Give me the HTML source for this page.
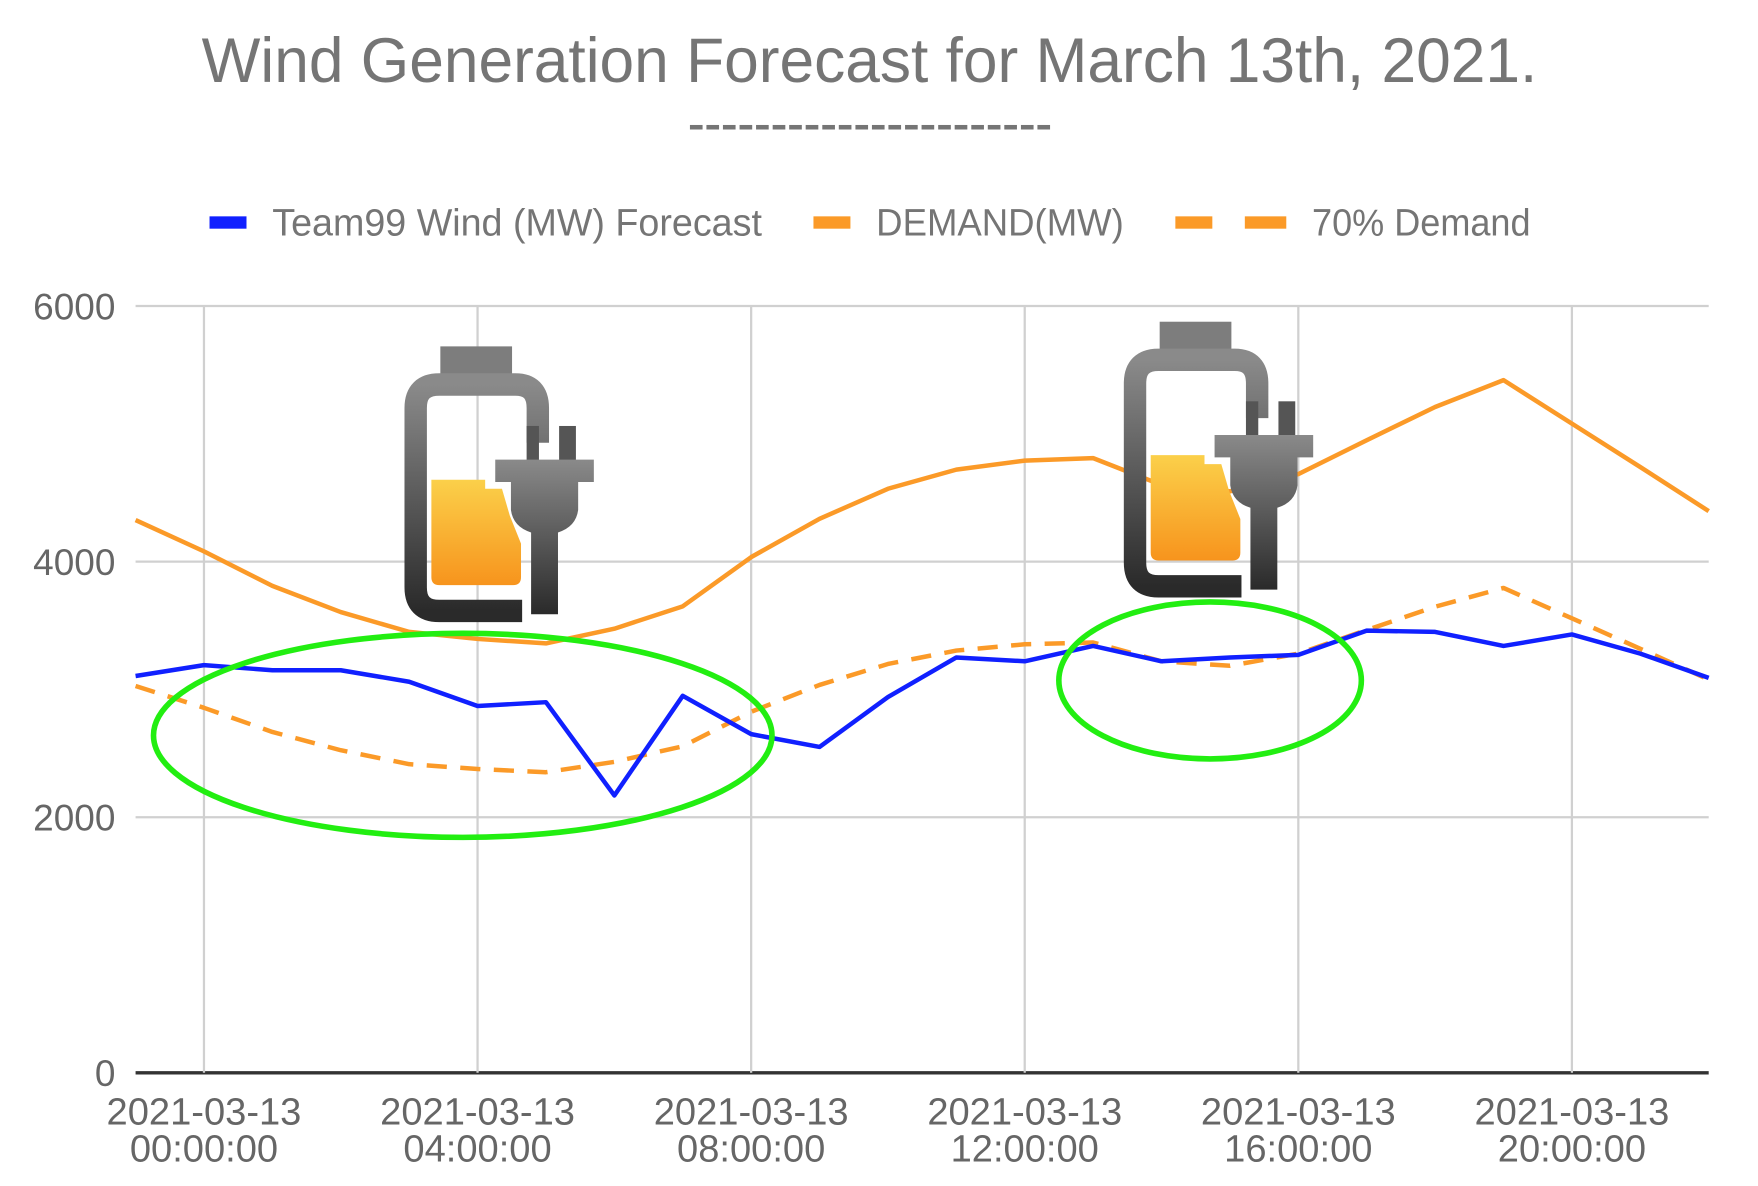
<!DOCTYPE html>
<html><head><meta charset="utf-8"><style>
html,body{margin:0;padding:0;background:#fff;}
svg{display:block;font-family:"Liberation Sans",sans-serif;}
</style></head><body>
<svg id="chart" width="1758" height="1186" viewBox="0 0 1569 1058" preserveAspectRatio="none" xmlns="http://www.w3.org/2000/svg">
<defs>
<linearGradient id="gGray" x1="0" y1="0" x2="0" y2="1"><stop offset="0" stop-color="#8a8a8a"/><stop offset="1" stop-color="#2a2a2a"/></linearGradient>
<linearGradient id="gOr" x1="0" y1="0" x2="0" y2="1"><stop offset="0" stop-color="#fbd04a"/><stop offset="1" stop-color="#f7941d"/></linearGradient>
</defs>
<text x="180" y="73" font-size="56" fill="#757575" textLength="1192" lengthAdjust="spacingAndGlyphs">Wind Generation Forecast for March 13th, 2021.</text>
<text x="614" y="122" font-size="34" font-weight="bold" fill="#757575" textLength="325" lengthAdjust="spacingAndGlyphs">----------------------</text>
<g font-size="34" fill="#757575">
<rect x="187" y="193" width="33" height="11" fill="#1020ff"/>
<text x="243" y="210" textLength="437" lengthAdjust="spacingAndGlyphs">Team99 Wind (MW) Forecast</text>
<rect x="726" y="193" width="33" height="11" fill="#fb9a28"/>
<text x="782" y="210" textLength="221" lengthAdjust="spacingAndGlyphs">DEMAND(MW)</text>
<rect x="1049" y="193" width="33" height="11" fill="#fb9a28"/>
<rect x="1111" y="193" width="37" height="11" fill="#fb9a28"/>
<text x="1171" y="210" textLength="195" lengthAdjust="spacingAndGlyphs">70% Demand</text>
</g>
<g id="grid"></g>
<g id="series"></g>
<g id="ann"></g>
</svg>
<script>
const hours = [-1,0,1,2,3,4,5,6,7,8,9,10,11,12,13,14,15,16,17,18,19,20,21,22];
const windMW = [3105,3190,3150,3150,3060,2870,2900,2170,2950,2650,2550,2940,3250,3220,3340,3220,3250,3270,3460,3450,3340,3430,3280,3090];
const demandMW = [4325,4080,3810,3605,3450,3395,3360,3475,3650,4035,4335,4570,4720,4790,4810,4600,4550,4685,4950,5210,5420,5080,4740,4395];
const demand70MW = [3027,2856,2667,2524,2415,2377,2352,2433,2555,2825,3035,3199,3304,3353,3367,3220,3185,3280,3465,3647,3794,3556,3318,3077];
const yTicks = [0,2000,4000,6000];
const xTickHours = [0,4,8,12,16,20];
const xTickLabels = [["2021-03-13","00:00:00"],["2021-03-13","04:00:00"],["2021-03-13","08:00:00"],["2021-03-13","12:00:00"],["2021-03-13","16:00:00"],["2021-03-13","20:00:00"]];

const NS="http://www.w3.org/2000/svg";
const X0=121,X1=1525,H0=-1,H1=22,Y0=957,Y1=273,V1=6000;
const xs=h=>X0+(h-H0)/(H1-H0)*(X1-X0);
const ys=v=>Y0-v/V1*(Y0-Y1);
function mk(tag,attrs,parent){const e=document.createElementNS(NS,tag);for(const k in attrs)e.setAttribute(k,attrs[k]);parent.appendChild(e);return e;}
const grid=document.getElementById('grid');
yTicks.forEach(v=>{
  const l=mk('line',{x1:X0,x2:X1,y1:ys(v),y2:ys(v),stroke:v===0?'#333':'#d0d0d0','stroke-width':v===0?3:2},grid);
  
  
  const t=mk('text',{x:103,y:ys(v)+12,'text-anchor':'end','font-size':33,fill:'#666'},grid);
  t.textContent=v;
  
  
});
xTickHours.forEach((h,i)=>{
  const l=mk('line',{x1:xs(h),x2:xs(h),y1:Y1,y2:Y0,stroke:'#d0d0d0','stroke-width':2},grid);
  
  
  const t=mk('text',{x:xs(h),'text-anchor':'middle','font-size':34,fill:'#666'},grid);
  
  
  xTickLabels[i].forEach((s,j)=>{const ts=mk('tspan',{x:xs(h),y:1003+j*33},t);ts.textContent=s;});
});
const ser=document.getElementById('series');
function line(vals,color,dash,name){
  const p=mk('polyline',{points:vals.map((v,i)=>xs(hours[i])+','+ys(v)).join(' '),fill:'none',stroke:color,'stroke-width':4,'stroke-linejoin':'round'},ser);
  if(dash)p.setAttribute('stroke-dasharray',dash);
  
  
}
line(demandMW,'#fb9a28',null,'demand-line');
line(demand70MW,'#fb9a28','18 12','demand-70-line');
line(windMW,'#1020ff',null,'wind-line');

const ann=document.getElementById('ann');
function battery(dx,dy,name){
  const g=mk('g',{transform:`translate(${dx},${dy})`},ann);
  
  
  mk('rect',{x:393,y:309,width:64,height:28,fill:'#7d7d7d'},g);
  mk('path',{d:'M466 545 H392 Q371 545 371 524 V364 Q371 343 392 343 H460 Q480 343 480 364 V395',fill:'none',stroke:'url(#gGray)','stroke-width':20},g);
  mk('path',{d:'M385 428 H433 V436 H448 L455 460 L465 485 V515 Q465 522 458 522 H392 Q385 522 385 515 Z',fill:'url(#gOr)'},g);
  mk('rect',{x:470,y:380,width:11,height:35,fill:'#555'},g);
  mk('rect',{x:499,y:380,width:15,height:35,fill:'#555'},g);
  mk('path',{d:'M442 410 H530 V430 H516 V455 Q514 470 498 475 V548 H474 V475 Q458 470 456 455 V430 H442 Z',fill:'url(#gGray)'},g);
}
battery(0,0,'battery-icon-1');
battery(642,-22,'battery-icon-2');
const e1=mk('ellipse',{cx:413,cy:656,rx:276,ry:91,fill:'none',stroke:'#22ee11','stroke-width':5},ann);


const e2=mk('ellipse',{cx:1080,cy:607,rx:135,ry:70,fill:'none',stroke:'#22ee11','stroke-width':5},ann);


</script>
</body></html>
